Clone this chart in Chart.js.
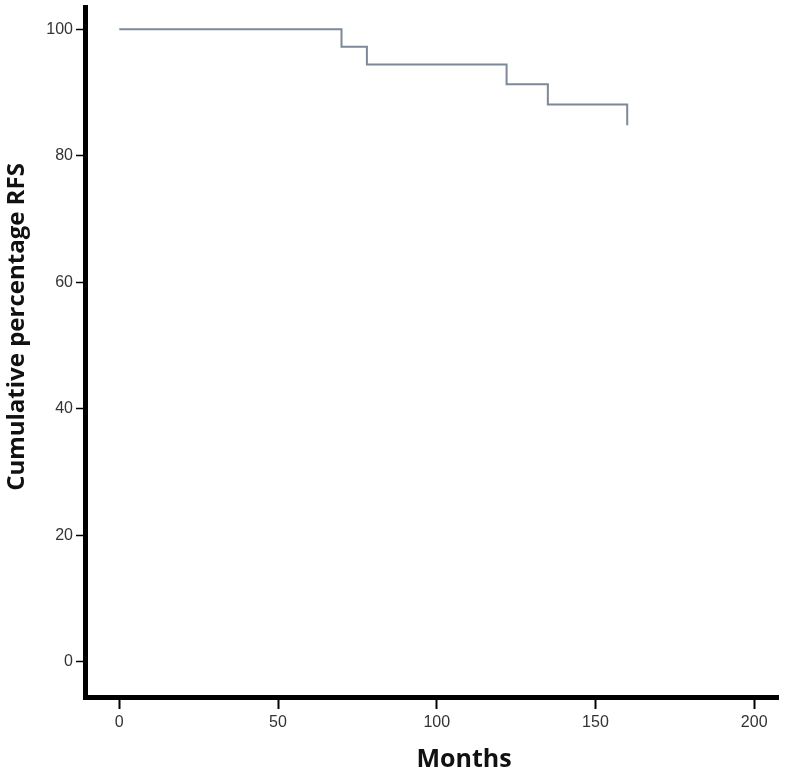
<!DOCTYPE html>
<html>
<head>
<meta charset="utf-8">
<script src="https://cdn.jsdelivr.net/npm/chart.js@4/dist/chart.umd.min.js"></script>
<style>
  body { margin: 0; background: #fff; }
  #wrap { width: 797px; height: 773px; }
</style>
</head>
<body>
<div id="wrap"><canvas id="km-chart" width="797" height="773"></canvas></div>
<script>
// Kaplan-Meier step points (months, cumulative % RFS)
const months = [0, 70, 78, 122, 135, 160];
const rfsPercent = [100, 97.2, 94.4, 91.3, 88.1, 84.8];
const xTicks = [0, 50, 100, 150, 200];
const yTicks = [0, 20, 40, 60, 80, 100];
const xTitle = 'Months';
const yTitle = 'Cumulative percentage RFS';

// axis titles drawn by hand so they sit where the original puts them
const axisTitles = {
  id: 'axisTitles',
  afterDraw(chart) {
    const ctx = chart.ctx;
    ctx.save();
    ctx.fillStyle = '#111';
    ctx.textAlign = 'center';
    ctx.textBaseline = 'middle';
    ctx.font = 'bold 25px "Open Sans"';
    ctx.fillText(xTitle, 464, 760);
    ctx.font = 'bold 24px "Open Sans"';
    ctx.translate(17, 327);
    ctx.rotate(-Math.PI / 2);
    ctx.fillText(yTitle, 0, 0);
    ctx.restore();
  }
};

new Chart(document.getElementById('km-chart'), {
  type: 'line',
  data: {
    datasets: [{
      data: months.map((m, i) => ({ x: m, y: rfsPercent[i] })),
      borderColor: '#7d8898',
      borderWidth: 2,
      stepped: 'before',
      pointRadius: 0,
      fill: false
    }]
  },
  options: {
    responsive: false,
    animation: false,
    layout: { padding: { top: 7, right: 19, left: 0, bottom: 0 } },
    plugins: {
      legend: { display: false },
      tooltip: { enabled: false }
    },
    scales: {
      x: {
        type: 'linear',
        min: -10.8,
        max: 207.5,
        afterFit: s => { s.height = 76; s.paddingLeft = 0; s.paddingRight = 0; },
        afterBuildTicks: s => { s.ticks = xTicks.map(v => ({ value: v })); },
        border: { color: '#000', width: 5 },
        grid: { drawOnChartArea: false, tickLength: 12, tickColor: '#000', tickWidth: 2 },
        ticks: { color: '#333', padding: 4, font: { family: 'Liberation Sans', size: 16 } }
      },
      y: {
        min: -5.58,
        max: 103.5,
        afterFit: s => { s.width = 85; s.paddingTop = 0; s.paddingBottom = 0; },
        afterBuildTicks: s => { s.ticks = yTicks.map(v => ({ value: v })); },
        border: { color: '#000', width: 5 },
        grid: { drawOnChartArea: false, tickLength: 9, tickColor: '#000', tickWidth: 1.5 },
        ticks: { color: '#333', padding: 3, font: { family: 'Liberation Sans', size: 16 } }
      }
    }
  },
  plugins: [axisTitles]
});
</script>
</body>
</html>
